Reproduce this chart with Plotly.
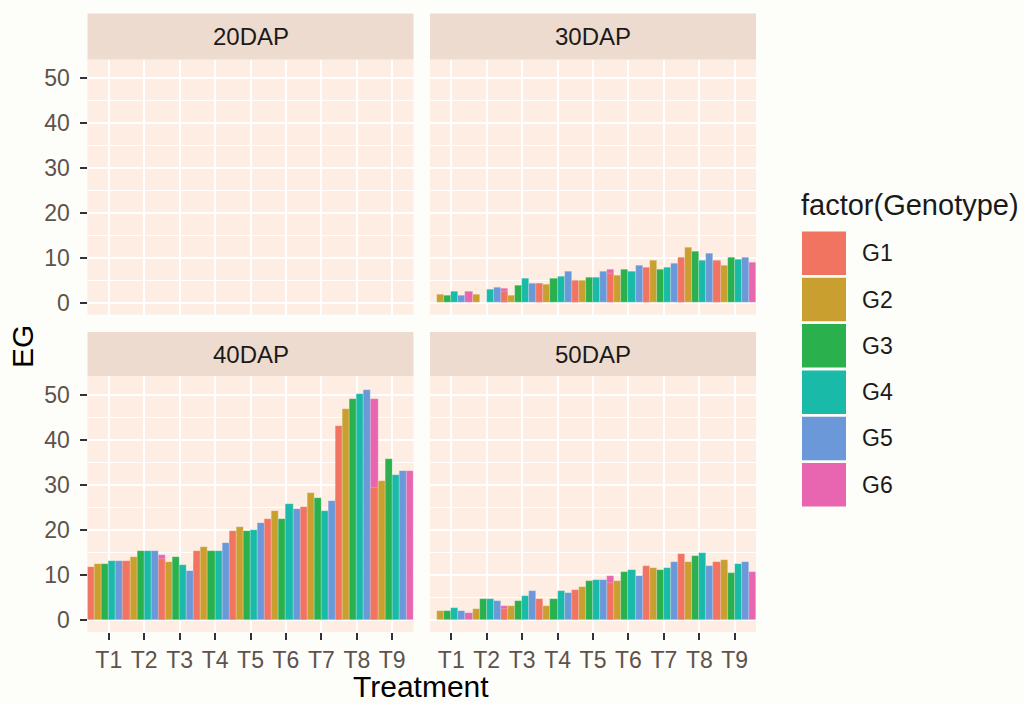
import plotly.graph_objects as go

# ---------------- data ----------------
treatments = ["T1", "T2", "T3", "T4", "T5", "T6", "T7", "T8", "T9"]
genotypes = ["G1", "G2", "G3", "G4", "G5", "G6"]
panels = ["20DAP", "30DAP", "40DAP", "50DAP"]
genotype_colors = ["#F07460", "#C9A030", "#2AB04C", "#1ABAA8", "#6A98D8", "#E866B0"]

eg_20dap = {
    "G1": [None, None, None, None, None, None, None, None, None],
    "G2": [None, None, None, None, None, None, None, None, None],
    "G3": [None, None, None, None, None, None, None, None, None],
    "G4": [None, None, None, None, None, None, None, None, None],
    "G5": [None, None, None, None, None, None, None, None, None],
    "G6": [None, None, None, None, None, None, None, None, None],
}
eg_30dap = {
    "G1": [None, None, 2.6, 4.2, 5.0, 6.5, 7.8, 10.1, 9.3],
    "G2": [1.8, 1.8, 1.6, 4.0, 5.0, 6.1, 9.3, 12.3, 8.4],
    "G3": [1.6, None, 3.9, 5.4, 5.7, 7.5, 7.5, 11.5, 10.1],
    "G4": [2.6, 2.9, 5.4, 5.8, 5.7, 7.0, 7.8, 9.3, 9.6],
    "G5": [1.6, 3.5, 4.4, 7.0, 7.0, 8.4, 8.7, 11.0, 10.1],
    "G6": [2.6, 3.2, 4.4, 4.5, 7.5, 7.0, 8.5, 9.0, 8.9],
}
eg_40dap = {
    "G1": [11.8, 13.1, 13.5, 15.3, 19.8, 22.5, 25.1, 43.1, 29.4],
    "G2": [12.4, 14.0, 12.8, 16.3, 20.7, 24.2, 28.2, 46.8, 30.8],
    "G3": [12.4, 15.3, 14.0, 15.3, 19.8, 22.5, 27.0, 48.9, 35.8],
    "G4": [13.1, 15.3, 12.2, 15.3, 20.1, 25.7, 24.2, 50.2, 32.2],
    "G5": [13.1, 15.3, 10.9, 17.2, 21.6, 24.6, 26.4, 51.1, 33.0],
    "G6": [12.8, 14.5, 13.0, 18.0, 21.0, 24.5, 27.0, 48.9, 33.0],
}
eg_50dap = {
    "G1": [None, None, 2.5, 4.6, 6.8, 8.2, 12.1, 14.7, 13.0],
    "G2": [2.0, 2.4, 3.2, 3.2, 7.3, 8.6, 11.5, 13.0, 13.4],
    "G3": [2.0, 4.6, 4.2, 4.6, 8.6, 10.8, 11.2, 14.3, 10.4],
    "G4": [2.7, 4.6, 5.4, 6.4, 9.0, 11.2, 11.5, 15.0, 12.5],
    "G5": [2.0, 4.2, 6.4, 6.0, 9.0, 9.9, 13.0, 12.1, 13.0],
    "G6": [1.5, 3.2, 4.0, 6.5, 9.9, 10.5, 12.5, 12.0, 10.8],
}
panel_data = {"20DAP": eg_20dap, "30DAP": eg_30dap, "40DAP": eg_40dap, "50DAP": eg_50dap}

# ---------------- layout helpers ----------------
W, H = 1024, 704
FONT = "Liberation Sans, Arial, sans-serif"
PAPER_BG = "#FDFDF9"
PANEL_BG = "#FDEDE2"
STRIP_BG = "#EEDBCF"
TICK_TXT = "#5E534C"


def fx(px):
    return px / W


def fy(py):
    return 1 - py / H


# pixel boxes of each panel: x0, x1, y_top, y_bottom
boxes = {
    "20DAP": (87.5, 413.5, 59.5, 314.5),
    "30DAP": (430, 756, 59.5, 314.5),
    "40DAP": (87.5, 413.5, 376, 632),
    "50DAP": (430, 756, 376, 632),
}
strips = {
    "20DAP": (13.5, 59.5),
    "30DAP": (13.5, 59.5),
    "40DAP": (332, 376),
    "50DAP": (332, 376),
}

BAR_W = 0.2      # dodge width per genotype (group width 1.2, as in the source)
draw_order = ["G6", "G1", "G2", "G3", "G4", "G5"]

fig = go.Figure()
layout_axes = {}
shapes = []
annotations = []

for k, p in enumerate(panels):
    idx = "" if k == 0 else str(k + 1)
    xa, ya = "x" + idx, "y" + idx
    x0, x1, yt, yb = boxes[p]
    bottom_row = p in ("40DAP", "50DAP")
    left_col = p in ("20DAP", "40DAP")

    for g in draw_order:
        gi = genotypes.index(g)
        fig.add_trace(go.Bar(
            x=treatments, y=panel_data[p][g],
            width=BAR_W, offset=(gi - 3) * BAR_W,
            marker=dict(color=genotype_colors[gi], line=dict(width=0.6, color="rgba(255,255,255,0.35)")),
            name=g, showlegend=False, xaxis=xa, yaxis=ya,
        ))

    layout_axes["xaxis" + idx] = dict(
        domain=[fx(x0), fx(x1)], anchor=ya,
        type="category", categoryorder="array", categoryarray=treatments,
        range=[-0.6, 8.6], showgrid=True, gridcolor="white", gridwidth=2.2,
        zeroline=False, showline=False,
        ticks="outside" if bottom_row else "", ticklen=7, tickwidth=2, tickcolor="#333333",
        showticklabels=bottom_row, ticklabelstandoff=0,
        tickfont=dict(family=FONT, size=23, color=TICK_TXT),
        fixedrange=True,
    )
    layout_axes["yaxis" + idx] = dict(
        domain=[fy(yb), fy(yt)], anchor=xa,
        range=[-2.6, 54.1], tick0=0, dtick=10,
        showgrid=True, gridcolor="white", gridwidth=2.2,
        minor=dict(tick0=0, dtick=5, showgrid=True, gridcolor="white", gridwidth=1.3),
        zeroline=False, showline=False,
        ticks="outside" if left_col else "", ticklen=7, tickwidth=2, tickcolor="#333333",
        showticklabels=left_col, ticklabelstandoff=5,
        tickfont=dict(family=FONT, size=23, color=TICK_TXT),
        fixedrange=True,
    )

    # facet strip
    st, sb = strips[p]
    shapes.append(dict(type="rect", xref="paper", yref="paper",
                       x0=fx(x0), x1=fx(x1), y0=fy(sb), y1=fy(st),
                       fillcolor=STRIP_BG, line=dict(width=0), layer="below"))
    annotations.append(dict(text=p, xref="paper", yref="paper",
                            x=fx((x0 + x1) / 2), y=fy((st + sb) / 2),
                            xanchor="center", yanchor="middle", showarrow=False,
                            font=dict(family=FONT, size=24, color="#1A1A1A")))

# axis titles
annotations.append(dict(text="Treatment", xref="paper", yref="paper",
                        x=fx(421), y=fy(686), xanchor="center", yanchor="middle",
                        showarrow=False, font=dict(family=FONT, size=30, color="#000000")))
annotations.append(dict(text="EG", xref="paper", yref="paper", textangle=-90,
                        x=fx(22), y=fy(347), xanchor="center", yanchor="middle",
                        showarrow=False, font=dict(family=FONT, size=30, color="#000000")))

# legend (drawn as keys + labels)
annotations.append(dict(text="factor(Genotype)", xref="paper", yref="paper",
                        x=fx(799), y=fy(205), xanchor="left", yanchor="middle",
                        showarrow=False, font=dict(family=FONT, size=29, color="#1A1A1A")))
key_top, key_pitch, key_h = 231.5, 46.3, 43.5
for i, g in enumerate(genotypes):
    ty = key_top + i * key_pitch
    shapes.append(dict(type="rect", xref="paper", yref="paper",
                       x0=fx(802), x1=fx(846), y0=fy(ty + key_h), y1=fy(ty),
                       fillcolor=genotype_colors[i], line=dict(width=0)))
    annotations.append(dict(text=g, xref="paper", yref="paper",
                            x=fx(860), y=fy(ty + key_h / 2), xanchor="left", yanchor="middle",
                            showarrow=False, font=dict(family=FONT, size=23, color="#1A1A1A")))

fig.update_layout(
    width=W, height=H, autosize=False,
    margin=dict(l=0, r=0, t=0, b=0),
    paper_bgcolor=PAPER_BG, plot_bgcolor=PANEL_BG,
    barmode="overlay", bargap=0,
    showlegend=False,
    shapes=shapes, annotations=annotations,
    font=dict(family=FONT),
    **layout_axes,
)

fig.write_html(
    "out.html",
    config={"displayModeBar": False},
    post_script="document.body.style.margin='0';document.body.style.padding='0';"
                "document.body.style.overflow='hidden';document.body.style.background='#FDFDF9';",
)
